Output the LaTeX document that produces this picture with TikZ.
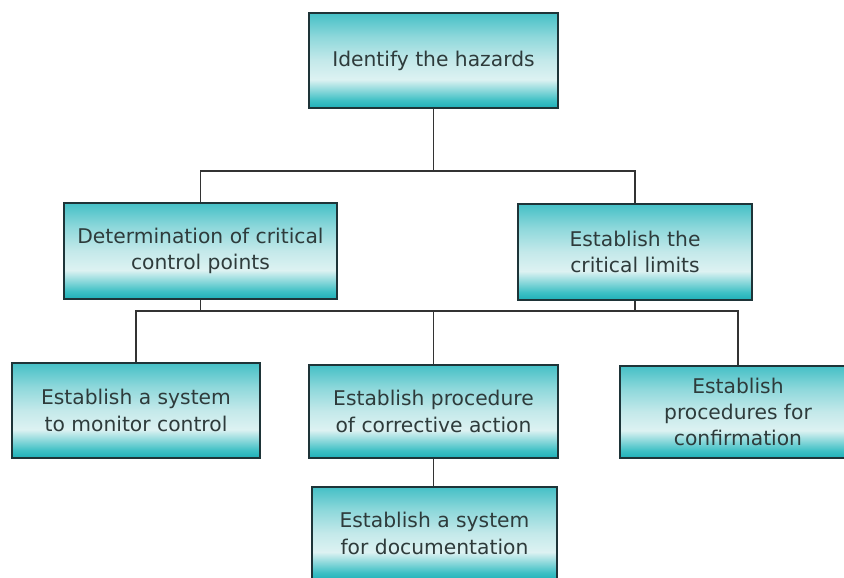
\documentclass[tikz,border=0pt]{standalone}
\usepackage{fontspec}
\setmainfont{DejaVu Sans}
\usetikzlibrary{calc}
\definecolor{edgecol}{HTML}{1E3438}
\definecolor{linecol}{HTML}{333333}
\definecolor{txtcol}{HTML}{2E3B3B}
\definecolor{tA}{HTML}{1FB0B8}
\definecolor{tB}{HTML}{3EC0C5}
\definecolor{tC}{HTML}{DDF2F2}
\definecolor{tD}{HTML}{C4E9EA}
\definecolor{tE}{HTML}{8ED8DB}
\definecolor{tF}{HTML}{45C0C6}
\pgfdeclareverticalshading{tealbox}{100bp}{color(0bp)=(tA); color(25bp)=(tA); color(29bp)=(tB); color(40bp)=(tC); color(50bp)=(tD); color(62.5bp)=(tE); color(75bp)=(tF); color(100bp)=(tF)}
\tikzset{
  boxstyle/.style={draw=edgecol, line width=1.3pt, shading=tealbox, align=center,
    text=txtcol, font=\fontsize{15.2}{19.8}\selectfont, inner sep=0pt},
  conn/.style={draw=linecol, line width=1.1pt}
}
\begin{document}
\begin{tikzpicture}[x=0.75pt,y=-0.75pt]
\useasboundingbox (0,0) rectangle (844,578);
\fill[white] (0,0) rectangle (844,578);
\clip (0,0) rectangle (844,578);
\node[boxstyle, minimum width=186.75pt, minimum height=71.25pt] (top) at (433.5,60.5) {Identify the hazards};
\node[boxstyle, minimum width=204.75pt, minimum height=72pt] (detm) at (200.5,251) {Determination of critical\\control points};
\node[boxstyle, minimum width=175.5pt, minimum height=72pt] (crit) at (635,252) {Establish the\\critical limits};
\node[boxstyle, minimum width=186pt, minimum height=71.25pt] (mon) at (136,410.5) {Establish a system\\to monitor control};
\node[boxstyle, minimum width=186.75pt, minimum height=69.75pt] (corr) at (433.5,411.5) {Establish procedure\\of corrective action};
\node[boxstyle, minimum width=177pt, minimum height=69pt] (conf) at (738,412) {Establish\\procedures for\\confirmation};
\node[boxstyle, minimum width=183.75pt, minimum height=69.75pt] (doc) at (434.5,533.5) {Establish a system\\for documentation};
\coordinate (busA) at (433,171);
\coordinate (busB) at (433,311);
\draw[conn] (top.south) -- (top.south |- busA);
\draw[conn] (top.south |- busA) -| (detm.north);
\draw[conn] (top.south |- busA) -| (crit.north);
\draw[conn] (detm.south) -- (detm.south |- busB);
\draw[conn] (detm.south |- busB) -| (mon.north);
\draw[conn] (detm.south |- busB) -| (conf.north);
\draw[conn] (crit.south) -- (crit.south |- busB);
\draw[conn] (corr.north) -- (corr.north |- busB);
\draw[conn] (corr.south) -- (corr.south |- doc.north);
\end{tikzpicture}
\end{document}
